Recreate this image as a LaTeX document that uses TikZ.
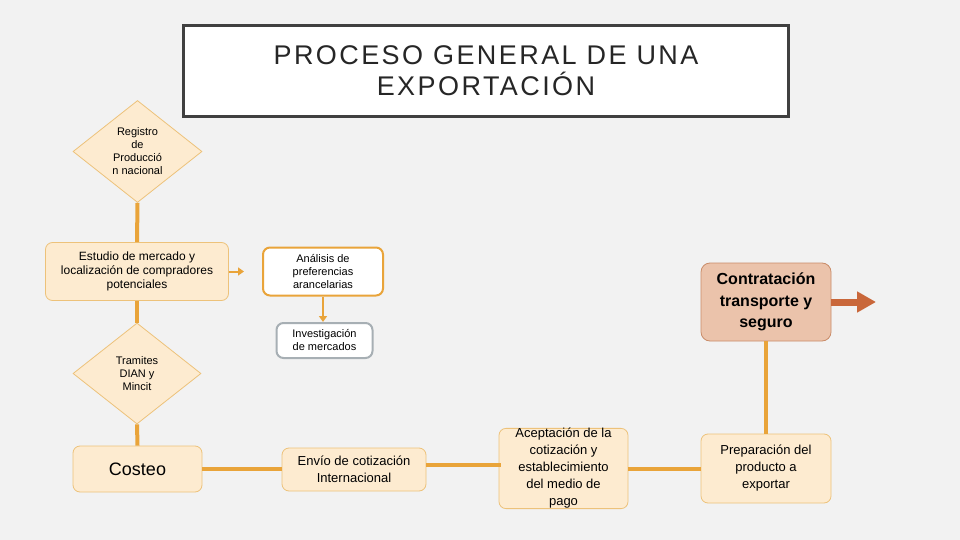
\documentclass[tikz,border=0pt]{standalone}
\usepackage{fontspec}
\setmainfont{Liberation Sans}
\usetikzlibrary{shapes.geometric,arrows.meta}
\definecolor{bg}{HTML}{F2F2F2}
\definecolor{peach}{HTML}{FDEBD0}
\definecolor{peachline}{HTML}{EDC27A}
\definecolor{conn}{HTML}{E9A43A}
\definecolor{salmon}{HTML}{EBC3AB}
\definecolor{salmonline}{HTML}{C98B68}
\definecolor{rust}{HTML}{C9673A}
\definecolor{titleline}{HTML}{404040}
\definecolor{grayline}{HTML}{A7AFB4}
\tikzset{
  fs/.style 2 args={font=\fontsize{#1}{#2}\selectfont},
  pbox/.style={draw=peachline, fill=peach, line width=0.8pt, rounded corners=7pt, align=center, inner sep=0pt},
  pdiam/.style={diamond, draw=peachline, fill=peach, line width=0.8pt, align=center, inner sep=0pt},
  conline/.style={draw=conn, line width=4pt},
  smallarrow/.style={draw=conn, line width=2pt, -{Triangle[width=8pt,length=6pt]}},
}
\begin{document}
\begin{tikzpicture}[x=1pt,y=-1pt]
\fill[bg] (0,0) rectangle (960,540);
\useasboundingbox (0,0) rectangle (960,540);

% title
\node[draw=titleline, line width=3pt, fill=white, minimum width=605pt, minimum height=91pt, align=center,
  text=black!85, font=\fontsize{27}{31}\selectfont\addfontfeature{LetterSpace=9}] (title) at (486,71)
  {PROCESO GENERAL DE UNA\\EXPORTACIÓN};

% left column
\node[pdiam, minimum width=129pt, minimum height=102pt, fs={11}{13}] (reg) at (137.5,151.5)
  {Registro\\de\\Producció\\n nacional};
\node[pbox, minimum width=183pt, minimum height=58pt, fs={12}{14}] (est) at (137,271.5)
  {Estudio de mercado y\\localización de compradores\\potenciales};
\node[pdiam, minimum width=128pt, minimum height=101pt, fs={11}{13}] (tram) at (137,373.5)
  {Tramites\\DIAN y\\Mincit};
\node[pbox, minimum width=129pt, minimum height=46pt, fs={18}{20}] (cost) at (137.5,469)
  {Costeo};

% middle upper
\node[draw=conn, fill=white, line width=2pt, rounded corners=7pt, align=center, inner sep=0pt,
  minimum width=120pt, minimum height=48pt, fs={11}{13}] (ana) at (323,271.5)
  {Análisis de\\preferencias\\arancelarias};
\node[draw=grayline, fill=white, line width=2pt, rounded corners=7pt, align=center, inner sep=0pt,
  minimum width=96pt, minimum height=35pt, fs={11}{13}] (inv) at (324.5,340.5)
  {Investigación\\de mercados};

% bottom row
\node[pbox, minimum width=144pt, minimum height=43pt, fs={13}{17}] (env) at (354,469.5)
  {Envío de cotización\\Internacional};
\node[pbox, minimum width=129pt, minimum height=69pt, fs={13}{17}] (acep) at (563.5,468.5)
  {Aceptación de la\\cotización y\\establecimiento\\del medio de\\pago};
\node[pbox, minimum width=130pt, minimum height=69pt, fs={13}{17}] (prep) at (766,468.5)
  {Preparación del\\producto a\\exportar};

% right
\node[draw=salmonline, fill=salmon, line width=0.8pt, rounded corners=9pt, align=center, inner sep=0pt,
  minimum width=130pt, minimum height=78pt, font=\fontsize{16}{21.5}\selectfont\bfseries] (contr) at (766,302)
  {Contratación\\transporte y\\seguro};
\coordinate (out) at (876,302);

% connectors
\draw[conline] (reg.south) -- (est.north);
\draw[conline] (est.south) -- (tram.north);
\draw[conline] (tram.south) -- (cost.north);
\draw[smallarrow, shorten >=18pt] (est.east) -- (ana.west);
\draw[smallarrow] (ana.south) -- (ana.south |- inv.north);
\draw[conline] (cost.east) -- (cost.east -| env.west);
\draw[conline] (env.east) ++(0,-5) -- ++(75,0);
\draw[conline] (acep.east) -- (prep.west);
\draw[conline] (prep.north) -- (contr.south);
\draw[draw=rust, line width=7pt, -{Triangle[width=20pt,length=19pt]}] (contr.east) -- (out);
\end{tikzpicture}
\end{document}
